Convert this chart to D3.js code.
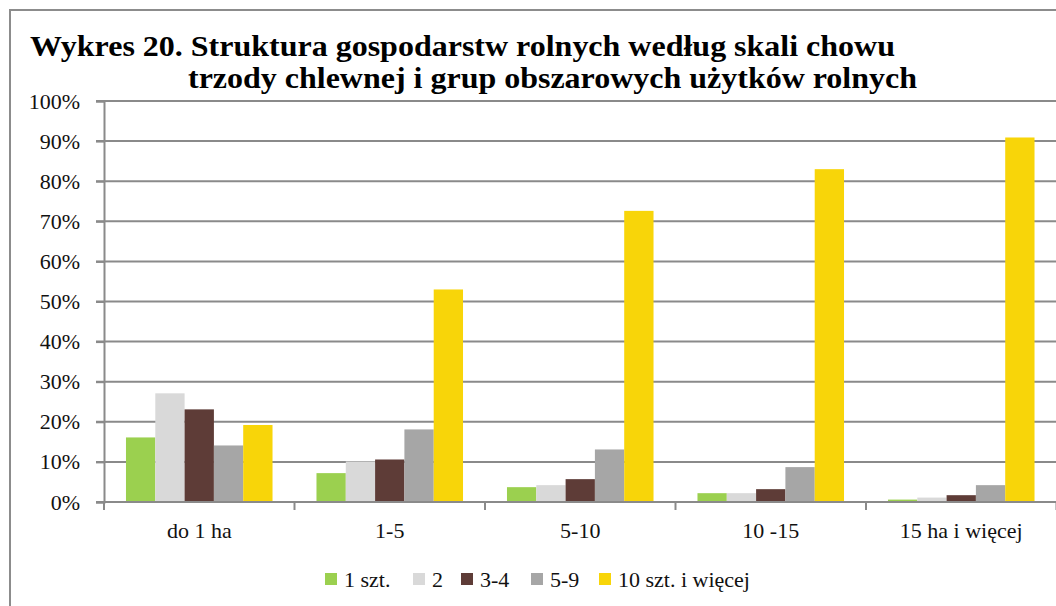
<!DOCTYPE html>
<html>
<head>
<meta charset="utf-8">
<script src="https://cdn.jsdelivr.net/npm/d3@7"></script>
<style>
  body { margin: 0; background: #fff; }
  svg text { font-family: "Liberation Serif", "DejaVu Serif", serif !important; }
</style>
</head>
<body>
<div id="chart"></div>
<script>
// data
let categories = ["do 1 ha", "1-5", "5-10", "10 -15", "15 ha i więcej"];
let seriesNames = ["1 szt.", "2", "3-4", "5-9", "10 szt. i więcej"];
let seriesColors = ["#9bd04f", "#d9d9d9", "#5e3c37", "#a6a6a6", "#f8d509"];
let s1 = [16.1, 7.2, 3.7, 2.2, 0.6];
let s2 = [27.1, 10.1, 4.2, 2.2, 1.1];
let s3 = [23.1, 10.6, 5.7, 3.2, 1.7];
let s4 = [14.1, 18.1, 13.1, 8.7, 4.2];
let s5 = [19.2, 53.0, 72.6, 83.0, 90.9];
let yTicks = [0, 10, 20, 30, 40, 50, 60, 70, 80, 90, 100];
let titleLines = ["Wykres 20. Struktura gospodarstw rolnych według skali chowu",
                  "trzody chlewnej i grup obszarowych użytków rolnych"];

let allSeries = [s1, s2, s3, s4, s5];

let width = 1056, height = 606;
let margin = {top: 101, right: 0, bottom: 104, left: 104};

let svg = d3.select("#chart").append("svg")
    .attr("width", width)
    .attr("height", height);

// outer frame
svg.append("rect")
    .attr("x", 10).attr("y", 10)
    .attr("width", width + 20).attr("height", height + 20)
    .attr("fill", "none")
    .attr("stroke", "#8c8c8c")
    .attr("stroke-width", 2);

// title
svg.append("text")
    .attr("x", 30).attr("y", 56)
    .attr("font-size", 30).attr("font-weight", "bold")
    .attr("textLength", 865).attr("lengthAdjust", "spacingAndGlyphs")
    .text(titleLines[0]);
svg.append("text")
    .attr("x", 188).attr("y", 88)
    .attr("font-size", 30).attr("font-weight", "bold")
    .attr("textLength", 729).attr("lengthAdjust", "spacingAndGlyphs")
    .text(titleLines[1]);

let x0 = d3.scaleBand()
    .domain(categories)
    .range([margin.left, width - margin.right + 0.5])
    .paddingInner(0).paddingOuter(0);

let x1 = d3.scaleBand()
    .domain(d3.range(seriesNames.length))
    .range([0, x0.bandwidth()])
    .paddingInner(0).paddingOuter(0.75);

let y = d3.scaleLinear()
    .domain([0, 100])
    .range([height - margin.bottom, margin.top]);

// gridlines
svg.append("g")
    .selectAll("line")
    .data(yTicks)
    .join("line")
    .attr("x1", margin.left - 8)
    .attr("x2", width)
    .attr("y1", d => y(d))
    .attr("y2", d => y(d))
    .attr("stroke", "#8a8a8a")
    .attr("stroke-width", 2);

// bars
let groups = svg.append("g")
    .selectAll("g")
    .data(categories)
    .join("g")
    .attr("transform", d => "translate(" + x0(d) + ",0)");

groups.selectAll("rect")
    .data((d, i) => allSeries.map((s, j) => ({j: j, v: s[i]})))
    .join("rect")
    .attr("x", d => x1(d.j))
    .attr("width", x1.bandwidth())
    .attr("y", d => y(d.v))
    .attr("height", d => y(0) - y(d.v))
    .attr("fill", d => seriesColors[d.j]);

// y axis
let yAxis = svg.append("g")
    .attr("transform", "translate(" + margin.left + ",0)")
    .call(d3.axisLeft(y).tickValues(yTicks).tickSize(8).tickPadding(16)
          .tickFormat(d => d + "%"));
yAxis.select(".domain").attr("stroke", "#8a8a8a").attr("stroke-width", 2);
yAxis.selectAll(".tick line").attr("stroke", "#8a8a8a").attr("stroke-width", 2);
yAxis.selectAll("text")
    .attr("font-size", 22)
    .attr("fill", "#111");

// x axis
let xAxis = svg.append("g")
    .attr("transform", "translate(0," + y(0) + ")")
    .call(d3.axisBottom(x0).tickSize(0).tickPadding(20));
xAxis.select(".domain").remove();
xAxis.selectAll("text")
    .attr("font-size", 22)
    .attr("fill", "#111");

svg.append("line")
    .attr("x1", margin.left).attr("x2", width)
    .attr("y1", y(0)).attr("y2", y(0))
    .attr("stroke", "#8a8a8a").attr("stroke-width", 2);

// category separators
svg.append("g")
    .selectAll("line")
    .data(categories.map(c => x0(c)).concat([x0.range()[1]]))
    .join("line")
    .attr("x1", d => d).attr("x2", d => d)
    .attr("y1", y(0)).attr("y2", y(0) + 8)
    .attr("stroke", "#8a8a8a").attr("stroke-width", 2);

// legend
let legendX = [325, 413, 461, 531, 599];
let legend = svg.append("g")
    .selectAll("g")
    .data(seriesNames)
    .join("g")
    .attr("transform", (d, i) => "translate(" + legendX[i] + ",573)");
legend.append("rect")
    .attr("width", 12).attr("height", 12)
    .attr("fill", (d, i) => seriesColors[i]);
legend.append("text")
    .attr("x", 19).attr("y", 14)
    .attr("font-size", 22)
    .attr("fill", "#111")
    .text(d => d);
</script>
</body>
</html>
